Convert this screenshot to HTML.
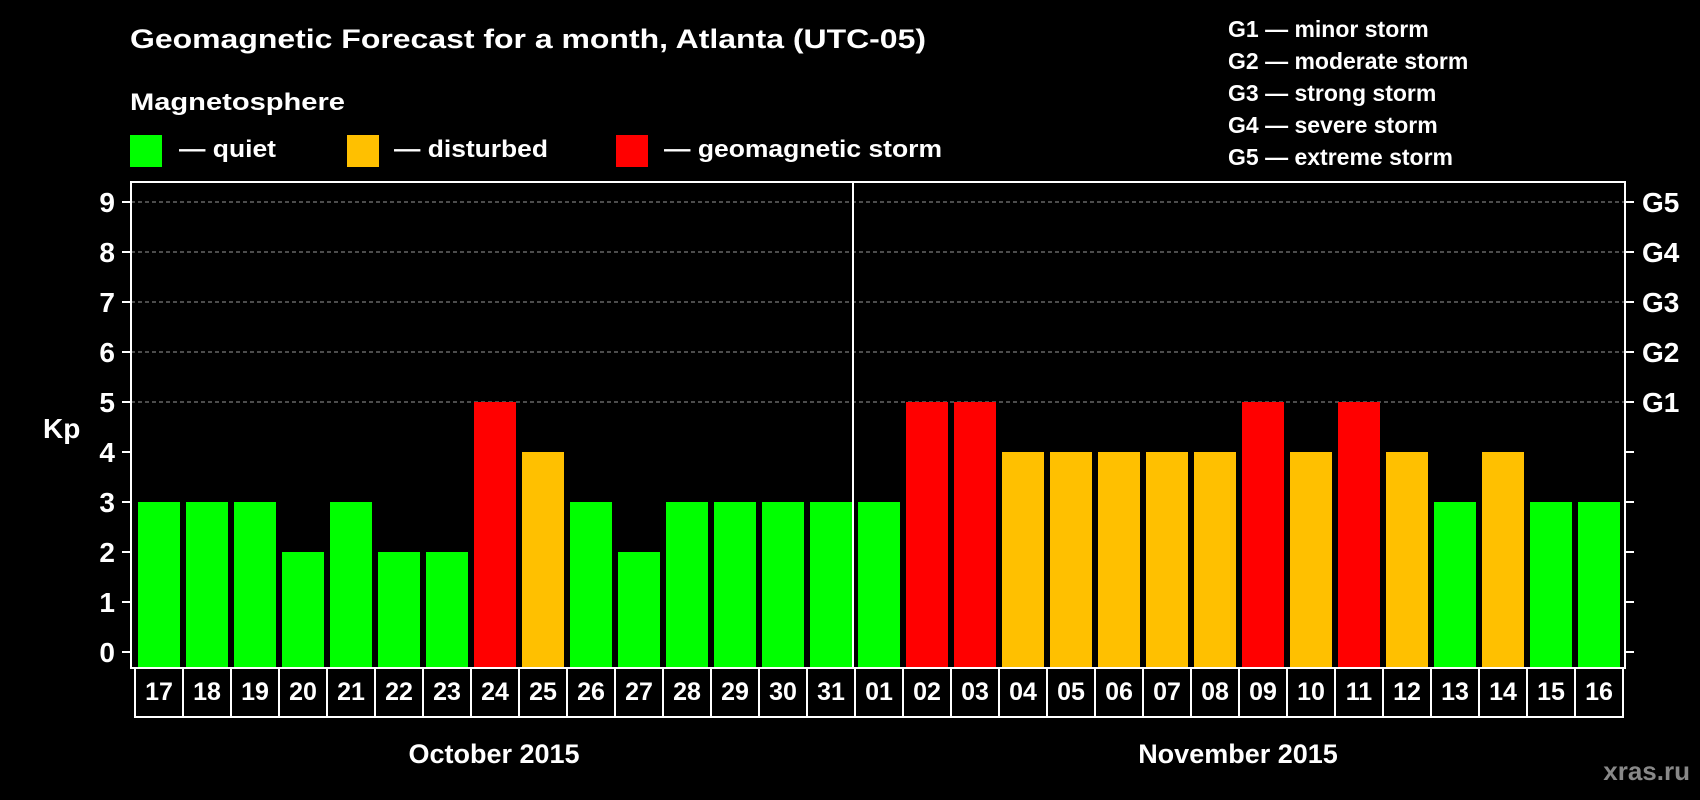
<!DOCTYPE html>
<html><head><meta charset="utf-8"><style>
html,body{margin:0;padding:0;background:#000;}
svg{display:block;font-family:"Liberation Sans",Arial,sans-serif;font-weight:bold;}
</style></head><body>
<svg id="chart" width="1700" height="800" viewBox="0 0 1700 800" xmlns="http://www.w3.org/2000/svg">
<rect x="0" y="0" width="1700" height="800" fill="#000"/>
<text x="130" y="48" fill="#fff" font-size="27" textLength="796" lengthAdjust="spacingAndGlyphs">Geomagnetic Forecast for a month, Atlanta (UTC-05)</text>
<text x="130" y="110" fill="#fff" font-size="24" textLength="215" lengthAdjust="spacingAndGlyphs">Magnetosphere</text>
<g>
<rect x="130" y="135" width="32" height="32" fill="#00ff00"/>
<text x="179" y="157" fill="#fff" font-size="24" textLength="97" lengthAdjust="spacingAndGlyphs">— quiet</text></g>
<g>
<rect x="347" y="135" width="32" height="32" fill="#ffc000"/>
<text x="394" y="157" fill="#fff" font-size="24" textLength="154" lengthAdjust="spacingAndGlyphs">— disturbed</text></g>
<g>
<rect x="616" y="135" width="32" height="32" fill="#ff0000"/>
<text x="664" y="157" fill="#fff" font-size="24" textLength="278" lengthAdjust="spacingAndGlyphs">— geomagnetic storm</text></g>
<g fill="#fff" font-size="23">
<text x="1228" y="37">G1 — minor storm</text>
<text x="1228" y="69">G2 — moderate storm</text>
<text x="1228" y="101">G3 — strong storm</text>
<text x="1228" y="133">G4 — severe storm</text>
<text x="1228" y="165">G5 — extreme storm</text>
</g>
<g id="grid"></g>
<g id="bars"></g>
<g id="axes"></g>
<text x="43" y="438" fill="#fff" font-size="28">Kp</text>
<text x="494" y="763" fill="#fff" font-size="27" text-anchor="middle">October 2015</text>
<text x="1238" y="763" fill="#fff" font-size="27" text-anchor="middle">November 2015</text>
<text x="1690" y="780" fill="#888" font-size="26" text-anchor="end">xras.ru</text>
</svg>
<script>
const days = ["17","18","19","20","21","22","23","24","25","26","27","28","29","30","31","01","02","03","04","05","06","07","08","09","10","11","12","13","14","15","16"];
const kpValues = [3,3,3,2,3,2,2,5,4,3,2,3,3,3,3,3,5,5,4,4,4,4,4,5,4,5,4,3,4,3,3];
const yTicks = [0,1,2,3,4,5,6,7,8,9];
const gLabels = ["G1","G2","G3","G4","G5"];
const gLevels = [5,6,7,8,9];
const monthBreakIndex = 15;

const NS="http://www.w3.org/2000/svg";
const L=131,R=1625,T=182,B=668;
const x0=135, step=48, barW=42;
function yScale(v){return 652-v*50;}
function xScale(i){return x0+i*step;}
function mk(tag,attrs,parent){const e=document.createElementNS(NS,tag);for(const k in attrs)e.setAttribute(k,attrs[k]);parent.appendChild(e);return e;}
const grid=document.getElementById('grid'),bars=document.getElementById('bars'),axes=document.getElementById('axes');

gLevels.forEach((v,i)=>{
  const ln=mk('line',{x1:L,x2:R,y1:yScale(v),y2:yScale(v),stroke:'#999','stroke-width':1,'stroke-dasharray':'4,3'},grid);
  
  
  const t=mk('text',{x:1642,y:yScale(v)+10,fill:'#fff','font-size':28},axes);
  t.textContent=gLabels[i];
  
  
});
kpValues.forEach((v,i)=>{
  const c=v>=5?'#ff0000':(v>=4?'#ffc000':'#00ff00');
  const r=mk('rect',{x:xScale(i)+3,y:yScale(v),width:barW,height:B-yScale(v),fill:c},bars);
  
  
  const cell=mk('rect',{x:xScale(i),y:B,width:step,height:49,fill:'none',stroke:'#fff','stroke-width':2},axes);
  
  
  const t=mk('text',{x:xScale(i)+step/2,y:700,fill:'#fff','font-size':25,'text-anchor':'middle'},axes);
  t.textContent=days[i];
  
  
});
const frame=mk('rect',{x:L,y:T,width:R-L,height:B-T,fill:'none',stroke:'#fff','stroke-width':2},axes);


const sep=mk('line',{x1:xScale(monthBreakIndex)-2,x2:xScale(monthBreakIndex)-2,y1:T,y2:B,stroke:'#fff','stroke-width':2},axes);


yTicks.forEach(v=>{
  const a=mk('line',{x1:122,x2:L,y1:yScale(v),y2:yScale(v),stroke:'#fff','stroke-width':2},axes);
  
  
  const b=mk('line',{x1:R,x2:1634,y1:yScale(v),y2:yScale(v),stroke:'#fff','stroke-width':2},axes);
  
  
  const t=mk('text',{x:115,y:yScale(v)+10,fill:'#fff','font-size':28,'text-anchor':'end'},axes);
  t.textContent=v;
  
  
});
</script>
</body></html>
